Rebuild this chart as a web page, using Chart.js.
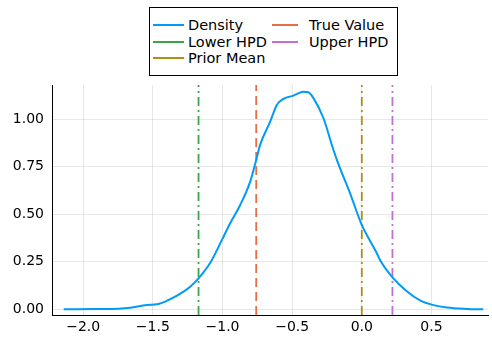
<!DOCTYPE html>
<html>
<head>
<meta charset="utf-8">
<script src="https://cdn.jsdelivr.net/npm/chart.js@4"></script>
<style>
  body { margin: 0; background: #fff; }
  #wrap { position: relative; width: 492px; height: 337px; }
  #legend { position: absolute; left: 149px; top: 7px; width: 247px; height: 67px;
            border: 1px solid #000; background: #fff; font: 14.5px "DejaVu Sans"; color: #000; }
  .item { position: absolute; height: 16px; line-height: 16px; white-space: nowrap; }
  .item span.ln { position: absolute; top: 7px; height: 2px; left: 0; }
  .item span.tx { position: absolute; top: 0; }
</style>
</head>
<body>
<div id="wrap">
  <canvas id="chart" width="492" height="337"></canvas>
  <div id="legend"></div>
</div>
<script>
// density curve
var densityX = [-2.14, -1.90, -1.75, -1.662, -1.542, -1.47, -1.375, -1.28, -1.232, -1.172, -1.088,
                -1.004, -0.945, -0.873, -0.801, -0.758, -0.730, -0.658, -0.610, -0.562, -0.491,
                -0.419, -0.383, -0.347, -0.275, -0.215, -0.179, -0.084, 0.0, 0.108, 0.131, 0.22,
                0.323, 0.418, 0.514, 0.61, 0.753, 0.872];
var densityY = [0.0, 0.001, 0.003, 0.008, 0.023, 0.026, 0.053, 0.093, 0.119, 0.163, 0.245,
                0.365, 0.453, 0.549, 0.672, 0.786, 0.865, 0.987, 1.075, 1.107, 1.124,
                1.145, 1.142, 1.111, 1.005, 0.865, 0.786, 0.61, 0.444, 0.295, 0.259, 0.168,
                0.095, 0.047, 0.022, 0.009, 0.002, 0.0];

// vertical marker lines, in legend/series order
var markerNames  = ['True Value', 'Lower HPD', 'Upper HPD', 'Prior Mean'];
var markerValues = [-0.758, -1.172, 0.22, 0.0];
var markerColors = ['#e26f46', '#3da44d', '#c271d2', '#ac8e18'];
var markerDash   = [[9, 5], [9, 4, 2, 4], [9, 4, 2, 4], [9, 4, 2, 4]];

var xTicks = [-2.0, -1.5, -1.0, -0.5, 0.0, 0.5];
var xTickLabels = ['\u22122.0', '\u22121.5', '\u22121.0', '\u22120.5', '0.0', '0.5'];
var yTicks = [0, 0.25, 0.5, 0.75, 1.0];
var yTickLabels = ['0.00', '0.25', '0.50', '0.75', '1.00'];

var xMin = -2.224, xMax = 0.906, yMin = -0.03, yMax = 1.18;

Chart.defaults.font.family = 'DejaVu Sans';
Chart.defaults.color = '#000';

var datasets = [{
  label: 'Density',
  data: densityX.map(function (x, i) { return { x: x, y: densityY[i] }; }),
  borderColor: '#009af9',
  borderWidth: 2,
  pointRadius: 0,
  cubicInterpolationMode: 'monotone',
  fill: false
}];
markerNames.forEach(function (name, i) {
  datasets.push({
    label: name,
    data: [{ x: markerValues[i], y: yMin }, { x: markerValues[i], y: yMax }],
    borderColor: markerColors[i],
    borderWidth: 1.8,
    borderDash: markerDash[i],
    pointRadius: 0,
    fill: false
  });
});

new Chart(document.getElementById('chart'), {
  type: 'line',
  data: { datasets: datasets },
  options: {
    responsive: false,
    animation: false,
    layout: { padding: { top: 85, right: 4, left: 0, bottom: 0 } },
    plugins: { legend: { display: false }, tooltip: { enabled: false } },
    scales: {
      x: {
        type: 'linear', min: xMin, max: xMax,
        afterBuildTicks: function (s) { s.ticks = xTicks.map(function (v) { return { value: v }; }); },
        afterFit: function (s) { s.height = 22; },
        ticks: {
          font: { size: 14 }, padding: 4, maxRotation: 0,
          callback: function (v) { var i = xTicks.indexOf(v); return i >= 0 ? xTickLabels[i] : ''; }
        },
        grid: { color: 'rgba(0,0,0,0.09)', drawTicks: false },
        border: { color: '#000', width: 1 }
      },
      y: {
        min: yMin, max: yMax,
        afterBuildTicks: function (s) { s.ticks = yTicks.map(function (v) { return { value: v }; }); },
        afterFit: function (s) { s.width = 52; },
        ticks: {
          font: { size: 14 }, padding: 8,
          callback: function (v) { var i = yTicks.indexOf(v); return i >= 0 ? yTickLabels[i] : ''; }
        },
        grid: { color: 'rgba(0,0,0,0.09)', drawTicks: false },
        border: { color: '#000', width: 1 }
      }
    }
  }
});

// legend box laid out in two columns, row by row like the original
var legendItems = [{ name: 'Density', color: '#009af9' }].concat(markerNames.map(function (n, i) {
  return { name: n, color: markerColors[i] };
}));
var legend = document.getElementById('legend');
legendItems.forEach(function (it, i) {
  var col = i % 2, row = Math.floor(i / 2);
  var d = document.createElement('div');
  d.className = 'item';
  d.style.left = (col === 0 ? 3 : 122) + 'px';
  d.style.top = (9 + row * 16.7) + 'px';
  var lineW = col === 0 ? 31 : 26, textX = col === 0 ? 35 : 37;
  d.innerHTML = '<span class="ln" style="width:' + lineW + 'px;background:' + it.color + '"></span>' +
    '<span class="tx" style="left:' + textX + 'px">' + it.name + '</span>';
  legend.appendChild(d);
});
</script>
</body>
</html>
